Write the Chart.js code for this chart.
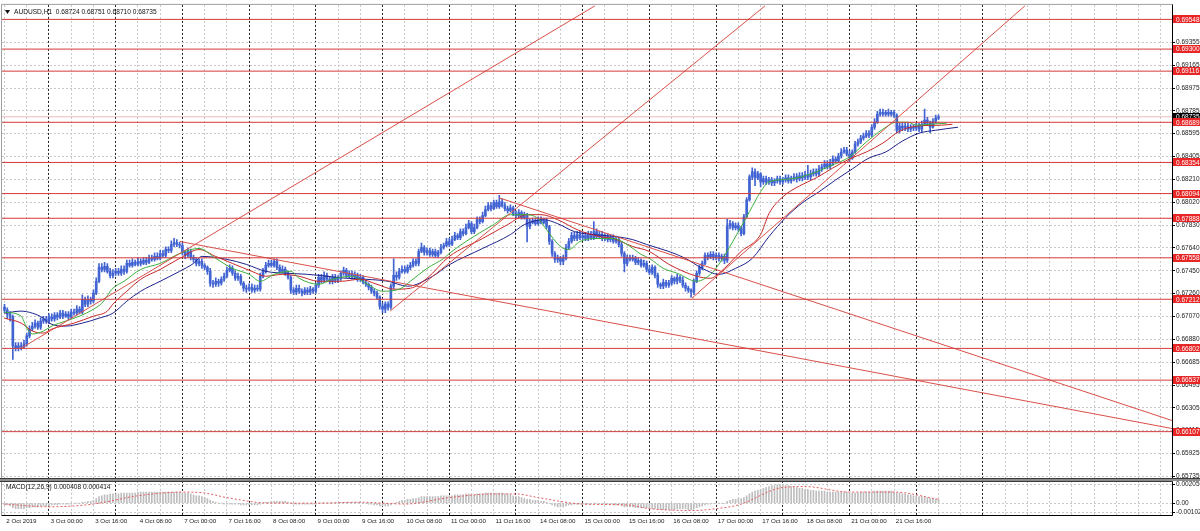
<!DOCTYPE html>
<html>
<head>
<meta charset="utf-8">
<script src="https://cdn.jsdelivr.net/npm/chart.js@4.4.1/dist/chart.umd.min.js"></script>
<style>
  html, body { margin: 0; padding: 0; background: #fff; }
  #wrap { width: 1200px; height: 531px; }
</style>
</head>
<body>
<div id="wrap"><canvas id="chart" width="1200" height="531"></canvas></div>
<script>
// AUDUSD H1, 2 Oct 08:00 .. 22 Oct 08:00, one value per hourly bar
const firstOpen = 0.67146;
const closes = [
  0.67121,0.67088,0.67063,0.66823,0.66806,0.66823,0.66814,0.66839,0.66906,0.66964,0.66988,0.67013,0.66980,0.67030,0.67047,0.67030,
  0.67063,0.67047,0.67080,0.67063,0.67096,0.67071,0.67088,0.67063,0.67104,0.67096,0.67130,0.67104,0.67212,0.67171,0.67212,0.67196,
  0.67263,0.67362,0.67478,0.67462,0.67487,0.67445,0.67412,0.67429,0.67445,0.67429,0.67462,0.67445,0.67511,0.67495,0.67520,0.67503,
  0.67528,0.67511,0.67536,0.67520,0.67553,0.67545,0.67570,0.67553,0.67594,0.67578,0.67628,0.67619,0.67669,0.67686,0.67669,0.67661,
  0.67603,0.67578,0.67611,0.67561,0.67545,0.67511,0.67528,0.67495,0.67478,0.67445,0.67346,0.67337,0.67362,0.67346,0.67379,0.67404,
  0.67453,0.67470,0.67429,0.67387,0.67404,0.67346,0.67304,0.67296,0.67312,0.67288,0.67304,0.67296,0.67404,0.67445,0.67495,0.67511,
  0.67495,0.67528,0.67478,0.67445,0.67462,0.67429,0.67396,0.67288,0.67271,0.67304,0.67279,0.67263,0.67288,0.67271,0.67296,0.67279,
  0.67329,0.67396,0.67371,0.67412,0.67379,0.67362,0.67396,0.67371,0.67387,0.67429,0.67453,0.67412,0.67429,0.67396,0.67412,0.67379,
  0.67396,0.67354,0.67337,0.67312,0.67279,0.67263,0.67230,0.67155,0.67130,0.67171,0.67146,0.67321,0.67412,0.67396,0.67445,0.67462,
  0.67445,0.67478,0.67495,0.67528,0.67511,0.67611,0.67644,0.67603,0.67619,0.67586,0.67611,0.67578,0.67603,0.67644,0.67661,0.67694,
  0.67669,0.67710,0.67743,0.67727,0.67777,0.67760,0.67810,0.67843,0.67777,0.67810,0.67877,0.67860,0.67910,0.67960,0.67993,0.67968,
  0.68018,0.67985,0.68026,0.67993,0.67968,0.67951,0.67976,0.67926,0.67910,0.67935,0.67893,0.67910,0.67819,0.67852,0.67868,0.67843,
  0.67877,0.67852,0.67868,0.67819,0.67694,0.67594,0.67545,0.67553,0.67528,0.67553,0.67644,0.67694,0.67743,0.67719,0.67752,0.67727,
  0.67743,0.67719,0.67752,0.67727,0.67777,0.67735,0.67752,0.67719,0.67735,0.67710,0.67727,0.67694,0.67710,0.67669,0.67594,0.67511,
  0.67561,0.67545,0.67553,0.67520,0.67536,0.67495,0.67511,0.67462,0.67437,0.67478,0.67412,0.67337,0.67321,0.67354,0.67329,0.67346,
  0.67387,0.67362,0.67396,0.67371,0.67329,0.67304,0.67288,0.67271,0.67362,0.67429,0.67478,0.67511,0.67578,0.67561,0.67586,0.67561,
  0.67578,0.67553,0.67570,0.67536,0.67827,0.67843,0.67810,0.67827,0.67802,0.67760,0.67901,0.68042,0.68233,0.68275,0.68225,0.68258,
  0.68192,0.68217,0.68192,0.68208,0.68183,0.68200,0.68217,0.68192,0.68208,0.68225,0.68200,0.68217,0.68233,0.68217,0.68242,0.68225,
  0.68250,0.68233,0.68258,0.68275,0.68258,0.68300,0.68316,0.68341,0.68316,0.68350,0.68383,0.68366,0.68408,0.68441,0.68457,0.68424,
  0.68391,0.68441,0.68507,0.68524,0.68557,0.68574,0.68598,0.68582,0.68648,0.68690,0.68756,0.68773,0.68756,0.68773,0.68756,0.68773,
  0.68748,0.68623,0.68657,0.68640,0.68657,0.68632,0.68648,0.68640,0.68657,0.68632,0.68673,0.68707,0.68682,0.68648,0.68698,0.68724,0.68735
];
const highs = [
  .6717,.6714,.6711,.6708,.6685,.6685,.6685,.6687,.6693,.6699,.6702,.6704,.6703,.6706,.6707,.6707,
  .6709,.6709,.6710,.6710,.6712,.6712,.6711,.6711,.6713,.6713,.6716,.6715,.6725,.6723,.6724,.6723,
  .6729,.6739,.6751,.6751,.6752,.6751,.6747,.6746,.6747,.6747,.6749,.6749,.6754,.6754,.6755,.6754,
  .6756,.6755,.6756,.6756,.6758,.6758,.6760,.6760,.6762,.6762,.6765,.6765,.6770,.6772,.6771,.6769,
  .6768,.6762,.6764,.6763,.6758,.6756,.6755,.6755,.6751,.6749,.6747,.6737,.6739,.6738,.6740,.6743,
  .6748,.6750,.6749,.6745,.6743,.6742,.6736,.6733,.6734,.6734,.6733,.6733,.6743,.6747,.6752,.6754,
  .6754,.6755,.6755,.6750,.6749,.6748,.6745,.6741,.6731,.6733,.6733,.6730,.6731,.6731,.6732,.6731,
  .6735,.6742,.6742,.6744,.6743,.6740,.6742,.6742,.6741,.6745,.6748,.6747,.6745,.6745,.6744,.6743,
  .6742,.6741,.6737,.6735,.6733,.6730,.6728,.6724,.6718,.6719,.6719,.6734,.6755,.6744,.6747,.6749,
  .6749,.6750,.6752,.6755,.6755,.6763,.6768,.6766,.6764,.6764,.6763,.6763,.6762,.6767,.6768,.6772,
  .6772,.6774,.6777,.6776,.6780,.6780,.6784,.6787,.6786,.6784,.6790,.6790,.6794,.6799,.6802,.6802,
  .6804,.6804,.6808,.6805,.6802,.6799,.6800,.6799,.6795,.6796,.6795,.6794,.6793,.6788,.6789,.6789,
  .6790,.6790,.6789,.6789,.6783,.6771,.6761,.6758,.6757,.6758,.6767,.6772,.6777,.6777,.6778,.6778,
  .6777,.6777,.6778,.6778,.6786,.6780,.6778,.6778,.6776,.6776,.6775,.6775,.6774,.6773,.6769,.6761,
  .6758,.6758,.6758,.6757,.6756,.6755,.6754,.6753,.6749,.6750,.6749,.6743,.6735,.6738,.6737,.6737,
  .6741,.6740,.6742,.6741,.6740,.6735,.6732,.6730,.6738,.6745,.6750,.6753,.6760,.6760,.6761,.6761,
  .6760,.6760,.6759,.6759,.6788,.6787,.6786,.6785,.6785,.6782,.6792,.6806,.6825,.6831,.6830,.6828,
  .6827,.6824,.6824,.6823,.6823,.6822,.6824,.6824,.6823,.6825,.6825,.6824,.6826,.6826,.6827,.6827,
  .6828,.6833,.6829,.6830,.6830,.6833,.6834,.6837,.6837,.6838,.6841,.6840,.6843,.6847,.6848,.6848,
  .6845,.6846,.6853,.6855,.6858,.6860,.6862,.6862,.6867,.6872,.6878,.6880,.6880,.6879,.6880,.6879,
  .6879,.6876,.6868,.6868,.6868,.6868,.6867,.6867,.6868,.6868,.6870,.6880,.6873,.6870,.6872,.6875,.68751
];
const lows = [
  .6710,.6705,.6703,.6671,.6678,.6678,.6679,.6680,.6682,.6689,.6695,.6697,.6696,.6696,.6701,.6701,
  .6701,.6703,.6703,.6704,.6705,.6705,.6706,.6704,.6705,.6708,.6708,.6709,.6709,.6715,.6715,.6717,
  .6718,.6725,.6735,.6744,.6744,.6743,.6739,.6739,.6741,.6741,.6741,.6742,.6743,.6748,.6748,.6749,
  .6749,.6749,.6750,.6750,.6751,.6753,.6753,.6754,.6754,.6756,.6756,.6760,.6760,.6765,.6765,.6764,
  .6758,.6755,.6756,.6754,.6752,.6749,.6749,.6747,.6746,.6742,.6732,.6731,.6732,.6732,.6733,.6736,
  .6739,.6744,.6741,.6737,.6737,.6733,.6728,.6727,.6728,.6727,.6727,.6728,.6728,.6739,.6743,.6748,
  .6748,.6748,.6746,.6743,.6743,.6741,.6738,.6726,.6725,.6725,.6726,.6724,.6725,.6725,.6725,.6726,
  .6726,.6731,.6735,.6735,.6736,.6734,.6734,.6735,.6735,.6737,.6741,.6739,.6739,.6738,.6738,.6736,
  .6736,.6734,.6732,.6729,.6726,.6724,.6721,.6713,.6710,.6710,.6712,.6713,.6730,.6737,.6738,.6743,
  .6743,.6743,.6746,.6748,.6749,.6749,.6760,.6758,.6758,.6757,.6757,.6756,.6756,.6759,.6763,.6765,
  .6765,.6766,.6770,.6771,.6771,.6774,.6775,.6780,.6776,.6776,.6780,.6784,.6785,.6790,.6795,.6795,
  .6796,.6797,.6797,.6798,.6795,.6793,.6794,.6791,.6789,.6789,.6788,.6788,.6769,.6780,.6784,.6783,
  .6783,.6784,.6784,.6780,.6767,.6757,.6752,.6752,.6750,.6750,.6754,.6763,.6768,.6770,.6770,.6771,
  .6771,.6770,.6770,.6771,.6771,.6772,.6772,.6770,.6770,.6769,.6769,.6768,.6768,.6765,.6757,.6744,
  .6749,.6753,.6753,.6750,.6750,.6748,.6748,.6744,.6742,.6742,.6739,.6731,.6730,.6730,.6731,.6731,
  .6733,.6734,.6734,.6735,.6731,.6728,.6727,.6723,.6725,.6735,.6741,.6746,.6750,.6754,.6755,.6754,
  .6754,.6753,.6753,.6751,.6752,.6780,.6779,.6779,.6778,.6774,.6775,.6789,.6803,.6821,.6816,.6821,
  .6815,.6817,.6817,.6817,.6816,.6816,.6818,.6817,.6817,.6819,.6818,.6818,.6820,.6819,.6820,.6820,
  .6821,.6821,.6821,.6824,.6824,.6824,.6828,.6830,.6830,.6830,.6833,.6835,.6835,.6839,.6843,.6841,
  .6836,.6838,.6843,.6849,.6851,.6854,.6856,.6856,.6857,.6863,.6868,.6874,.6874,.6874,.6874,.6874,
  .6873,.6860,.6860,.6862,.6862,.6861,.6861,.6862,.6862,.6861,.6861,.6866,.6866,.6860,.6864,.6868,.68710
];
// each bar opens at the previous bar's close
const opens = closes.map((c, i) => (i === 0 ? firstOpen : closes[i - 1]));

// Alligator lines (jaw / teeth / lips), read at sample bars
const jawBars = [0,6,10,14,16,22,28,34,39,44,49,56,63,68,71,80,87,94,102,109,116,123,130,138,145,154,160,172,182,187,194,199,205,212,220,226,231,239,245,251,257,263,269,275,281,287,293,299,305,311,317,323,329,335,343];
const jawVals = [.67096,.67113,.67096,.67054,.67013,.66988,.67013,.67054,.67096,.67196,.67279,.67362,.67445,.67511,.67570,.67545,.67503,.67445,.67429,.67420,.67404,.67387,.67379,.67362,.67321,.67404,.67500,.67636,.67752,.67835,.67876,.67843,.67777,.67752,.67735,.67710,.67669,.67611,.67553,.67470,.67420,.67470,.67553,.67735,.67893,.68017,.68109,.68208,.68300,.68391,.68441,.68532,.68598,.68623,.68648];
const teethBars = [0,6,10,14,17,25,32,37,39,44,49,56,63,70,76,82,89,94,100,106,113,121,128,134,140,146,152,160,172,181,188,193,199,206,214,219,226,232,239,249,254,257,265,272,275,280,286,292,298,304,310,316,322,328,337,341];
const teethVals = [.67054,.67013,.66947,.66930,.66963,.67013,.67071,.67113,.67171,.67279,.67379,.67461,.67553,.67627,.67569,.67511,.67445,.67404,.67420,.67404,.67362,.67362,.67379,.67337,.67296,.67304,.67387,.67569,.67719,.67835,.67918,.67918,.67876,.67793,.67735,.67719,.67652,.67611,.67504,.67404,.67387,.67428,.67611,.67752,.67926,.68067,.68158,.68225,.68308,.68383,.68441,.68516,.68615,.68657,.68665,.68673];
const lipsBars = [0,6,8,10,14,17,22,27,32,35,39,43,49,56,63,70,76,82,88,92,97,103,106,113,118,125,130,136,142,146,152,158,160,166,176,182,187,192,195,200,203,207,212,219,224,229,232,237,242,249,254,257,262,268,272,275,283,290,298,304,310,316,321,325,328,333,339];
const lipsVals = [.67104,.67071,.66972,.66922,.66947,.66988,.67030,.67071,.67129,.67179,.67304,.67362,.67461,.67511,.67594,.67636,.67553,.67470,.67420,.67362,.67420,.67445,.67387,.67337,.67379,.67404,.67346,.67279,.67296,.67362,.67470,.67553,.67594,.67694,.67836,.67918,.67918,.67885,.67793,.67652,.67627,.67694,.67719,.67719,.67669,.67587,.67553,.67470,.67429,.67362,.67420,.67504,.67694,.67943,.68109,.68192,.68217,.68258,.68334,.68400,.68524,.68632,.68690,.68690,.68665,.68673,.68682];

// horizontal levels and trend lines (bar, price)
const levels = [0.69548, 0.69300, 0.69116, 0.68689, 0.68354, 0.68094, 0.67888, 0.67558, 0.67212, 0.66802, 0.66537, 0.66107];
const bidPrice = 0.68735;
const trendFrom = [[5.6, 0.66798], [138.7, 0.67113], [247.3, 0.67221], [63.1, 0.67694], [177.9, 0.68059]];
const trendTo = [[212.4, 0.69661], [273.6, 0.69661], [367.1, 0.69661], [420, 0.66133], [420, 0.66200]];

// MACD(12,26,9): main per bar, signal at sample bars
const macdMain = [
  -0.0002,-0.0002,-0.0003,-0.0005,-0.0006,-0.0006,-0.0006,-0.0006,-0.0005,-0.0005,-0.0004,-0.0004,-0.0004,-0.0003,-0.0003,-0.0003,
  -0.0003,-0.0002,-0.0002,-0.0002,-0.0001,-0.0001,-0.0001,-0.0001,-0.0001,0.0000,0.0000,0.0000,0.0001,0.0001,0.0002,0.0002,
  0.0003,0.0005,0.0007,0.0008,0.0009,0.0009,0.0010,0.0010,0.0010,0.0010,0.0011,0.0011,0.0011,0.0011,0.0011,0.0011,
  0.0012,0.0012,0.0012,0.0012,0.0012,0.0012,0.0012,0.0012,0.0012,0.0012,0.0012,0.0012,0.0012,0.0012,0.0012,0.0012,
  0.0011,0.0011,0.0011,0.0010,0.0009,0.0008,0.0008,0.0007,0.0006,0.0005,0.0003,0.0002,0.0001,0.0000,0.0000,-0.0001,
  -0.0001,-0.0001,-0.0001,-0.0001,-0.0001,-0.0002,-0.0002,-0.0002,-0.0002,-0.0002,-0.0002,-0.0002,-0.0001,0.0000,0.0001,0.0001,
  0.0002,0.0002,0.0002,0.0002,0.0002,0.0002,0.0001,0.0000,-0.0001,-0.0001,-0.0001,-0.0001,-0.0001,-0.0001,-0.0001,-0.0001,
  -0.0001,0.0000,0.0000,0.0000,0.0000,0.0000,0.0000,0.0000,0.0000,0.0001,0.0001,0.0001,0.0001,0.0001,0.0001,0.0001,
  0.0001,0.0000,0.0000,-0.0001,-0.0001,-0.0002,-0.0002,-0.0003,-0.0003,-0.0003,-0.0003,-0.0002,0.0000,0.0001,0.0002,0.0003,
  0.0003,0.0004,0.0004,0.0005,0.0005,0.0006,0.0007,0.0007,0.0007,0.0007,0.0007,0.0007,0.0007,0.0008,0.0008,0.0008,
  0.0008,0.0008,0.0009,0.0009,0.0009,0.0009,0.0010,0.0010,0.0009,0.0009,0.0010,0.0010,0.0010,0.0011,0.0011,0.0011,
  0.0011,0.0011,0.0011,0.0011,0.0010,0.0010,0.0009,0.0008,0.0007,0.0007,0.0006,0.0005,0.0004,0.0004,0.0003,0.0003,
  0.0003,0.0002,0.0002,0.0001,0.0000,-0.0002,-0.0003,-0.0004,-0.0004,-0.0004,-0.0003,-0.0002,-0.0002,-0.0001,-0.0001,-0.0001,
  -0.0001,-0.0001,-0.0001,-0.0001,0.0000,0.0000,-0.0001,-0.0001,-0.0001,-0.0001,-0.0001,-0.0002,-0.0002,-0.0002,-0.0003,-0.0004,
  -0.0004,-0.0004,-0.0004,-0.0005,-0.0005,-0.0005,-0.0005,-0.0005,-0.0006,-0.0006,-0.0006,-0.0007,-0.0007,-0.0007,-0.0007,-0.0007,
  -0.0007,-0.0007,-0.0006,-0.0006,-0.0006,-0.0006,-0.0007,-0.0007,-0.0006,-0.0005,-0.0004,-0.0003,-0.0002,-0.0001,-0.0001,0.0000,
  0.0000,0.0000,0.0000,0.0000,0.0002,0.0003,0.0004,0.0004,0.0005,0.0005,0.0006,0.0008,0.0010,0.0012,0.0013,0.0014,
  0.0015,0.0016,0.0017,0.0018,0.0019,0.0019,0.0020,0.0020,0.0020,0.0019,0.0019,0.0018,0.0018,0.0017,0.0016,0.0016,
  0.0015,0.0015,0.0014,0.0014,0.0013,0.0013,0.0013,0.0013,0.0012,0.0012,0.0012,0.0012,0.0012,0.0012,0.0012,0.0012,
  0.0011,0.0011,0.0011,0.0011,0.0012,0.0012,0.0012,0.0012,0.0012,0.0013,0.0013,0.0013,0.0013,0.0013,0.0013,0.0013,
  0.0012,0.0011,0.0011,0.0010,0.0010,0.0009,0.0009,0.0008,0.0008,0.0007,0.0007,0.0006,0.0006,0.0005,0.0005,0.0004,0.0004
];
const signalBars = [0,16,32,48,64,72,80,96,112,128,136,144,160,176,184,192,208,224,232,248,256,264,280,288,304,320,336];
const signalVals = [-0.0001,-0.0004,-0.0001,0.0008,0.0012,0.0011,0.0006,0.0000,0.0000,0.0001,0.0000,-0.0001,0.0006,0.0010,0.0010,0.0006,-0.0001,-0.0002,-0.0006,-0.0008,-0.0006,-0.0002,0.0017,0.0018,0.0012,0.0012,0.000414];

// axes
const priceTicks = [0.69355,0.69165,0.68975,0.68785,0.68595,0.68405,0.68210,0.68020,0.67830,0.67640,0.67450,0.67260,0.67070,0.66880,0.66685,0.66495,0.66305,0.66115,0.65925,0.65735];
const macdTicks = [0.002056, 0, -0.00102];
const macdTickLabels = ['0.002056', '0.00', '-0.00102'];
const labelBars = [0,16,32,48,64,80,96,112,128,144,160,176,192,208,224,240,256,272,288,304,320];
const timeLabels = ['2 Oct 2019','3 Oct 00:00','3 Oct 16:00','4 Oct 08:00','7 Oct 00:00','7 Oct 16:00','8 Oct 08:00','9 Oct 00:00','9 Oct 16:00','10 Oct 08:00','11 Oct 00:00','11 Oct 16:00','14 Oct 08:00','15 Oct 00:00','15 Oct 16:00','16 Oct 08:00','17 Oct 00:00','17 Oct 16:00','18 Oct 08:00','21 Oct 00:00','21 Oct 16:00'];
const dayStartBars = [16,40,64,88,112,136,160,184,208,232,256,280,304,328,352];
const titleText = 'AUDUSD,H1  0.68724 0.68751 0.68710 0.68735';
const macdTitle = 'MACD(12,26,9) 0.000408 0.000414';

const XMIN = -0.9, XMAX = 420;
const PMIN = 0.65710, PMAX = 0.69669;
const MMIN = -0.00129, MMAX = 0.00260;
const FONT = "'Liberation Sans', Arial, sans-serif";
const gridBars = Array.from({length: 53}, (_, k) => 8 * k);

const pts = (xs, ys) => xs.map((x, i) => ({x: x, y: ys[i]}));
const candleBlue = 'rgb(66,100,210)';
const lineRed = 'rgb(212,58,58)';

const datasets = [];
levels.forEach(l => datasets.push({
  type: 'line', yAxisID: 'y', order: 1, data: [{x: XMIN, y: l}, {x: XMAX, y: l}],
  borderColor: lineRed, borderWidth: 1, pointRadius: 0
}));
trendFrom.forEach((a, k) => datasets.push({
  type: 'line', yAxisID: 'y', order: 1, data: [{x: a[0], y: a[1]}, {x: trendTo[k][0], y: trendTo[k][1]}],
  borderColor: 'rgb(218,80,72)', borderWidth: 1, pointRadius: 0
}));
datasets.push({
  type: 'line', yAxisID: 'y', order: 2, data: pts(lipsBars, lipsVals),
  borderColor: 'rgb(60,175,60)', borderWidth: 1, pointRadius: 0, cubicInterpolationMode: 'monotone'
});
datasets.push({
  type: 'line', yAxisID: 'y', order: 2, data: pts(teethBars, teethVals),
  borderColor: 'rgb(200,40,40)', borderWidth: 1, pointRadius: 0, cubicInterpolationMode: 'monotone'
});
datasets.push({
  type: 'line', yAxisID: 'y', order: 2, data: pts(jawBars, jawVals),
  borderColor: 'rgb(30,35,140)', borderWidth: 1, pointRadius: 0, cubicInterpolationMode: 'monotone'
});
datasets.push({
  type: 'bar', yAxisID: 'y', order: 4, grouped: false, barThickness: 2, minBarLength: 1,
  data: closes.map((c, i) => ({x: i, y: [opens[i], c]})),
  backgroundColor: candleBlue, borderWidth: 0
});
datasets.push({
  type: 'bar', yAxisID: 'y', order: 5, grouped: false, barThickness: 1,
  data: highs.map((h, i) => ({x: i, y: [lows[i], h]})),
  backgroundColor: candleBlue, borderWidth: 0
});
datasets.push({
  type: 'line', yAxisID: 'y', order: 6, data: [{x: XMIN, y: bidPrice}, {x: XMAX, y: bidPrice}],
  borderColor: 'rgba(225,170,170,0.8)', borderWidth: 1, pointRadius: 0
});
datasets.push({
  type: 'line', yAxisID: 'm', order: 2, data: pts(signalBars, signalVals),
  borderColor: 'rgb(228,95,95)', borderWidth: 1, borderDash: [2, 2], pointRadius: 0, cubicInterpolationMode: 'monotone'
});
datasets.push({
  type: 'bar', yAxisID: 'm', order: 3, grouped: false, barThickness: 1,
  data: macdMain.map((v, i) => ({x: i, y: v})),
  backgroundColor: 'rgb(190,190,190)', borderWidth: 0
});

const mt4Decor = {
  id: 'mt4Decor',
  afterDraw(chart) {
    const {ctx, chartArea: a, scales} = chart;
    const y = scales.y, m = scales.m;
    ctx.save();
    // frame
    ctx.strokeStyle = '#a0a0a0';
    ctx.lineWidth = 1;
    ctx.beginPath();
    ctx.moveTo(a.left - 0.5, a.top - 0.5); ctx.lineTo(a.left - 0.5, a.bottom);
    ctx.moveTo(a.left - 0.5, a.top - 0.5); ctx.lineTo(a.right, a.top - 0.5);
    ctx.stroke();
    ctx.strokeStyle = '#000';
    ctx.beginPath();
    ctx.moveTo(a.right + 0.5, a.top - 0.5); ctx.lineTo(a.right + 0.5, a.bottom + 0.5);
    ctx.lineTo(a.left - 0.5, a.bottom + 0.5);
    ctx.stroke();
    // panel separator
    const sep = Math.round(y.bottom);
    ctx.fillStyle = '#8c8c8c';
    ctx.fillRect(0, sep - 1, chart.width, 3);
    ctx.fillStyle = '#3a3a3a';
    ctx.fillRect(0, sep - 1, chart.width, 1);
    ctx.fillRect(0, sep + 2, a.right + 1, 1);

    // axis price boxes
    ctx.font = '6.5px ' + FONT;
    ctx.textBaseline = 'middle';
    ctx.textAlign = 'left';
    const box = (v, bg) => {
      const py = y.getPixelForValue(v);
      ctx.fillStyle = bg;
      ctx.fillRect(a.right + 1, Math.round(py) - 4, chart.width - a.right - 1, 8);
      ctx.fillStyle = '#fff';
      ctx.fillText(v.toFixed(5), a.right + 4, py + 0.5);
    };
    box(bidPrice, '#000');
    levels.forEach(l => box(l, 'rgb(232,38,38)'));

    // titles
    ctx.fillStyle = '#111';
    ctx.font = '6.6px ' + FONT;
    ctx.fillText(titleText, a.left + 12, a.top + 7);
    ctx.beginPath();
    ctx.moveTo(a.left + 3, a.top + 5); ctx.lineTo(a.left + 8, a.top + 5); ctx.lineTo(a.left + 5.5, a.top + 9);
    ctx.closePath();
    ctx.fill();
    ctx.fillText(macdTitle, a.left + 4, m.top + 8);
    ctx.restore();
  }
};

new Chart(document.getElementById('chart'), {
  type: 'line',
  data: {datasets: datasets},
  options: {
    responsive: false,
    animation: false,
    devicePixelRatio: 1,
    events: [],
    layout: {padding: {left: 2, top: 2, right: 0, bottom: 0}},
    plugins: {legend: {display: false}, tooltip: {enabled: false}},
    scales: {
      x: {
        type: 'linear', position: 'bottom', min: XMIN, max: XMAX, offset: false,
        afterBuildTicks: s => { s.ticks = gridBars.map(v => ({value: v})); },
        afterFit: s => { s.height = 16; s.paddingLeft = 0; s.paddingRight = 0; },
        ticks: {
          autoSkip: false, maxRotation: 0, align: 'start', padding: 3, color: '#222',
          font: {family: FONT, size: 6.2},
          callback: v => { const k = labelBars.indexOf(v); return k < 0 ? '' : ' ' + timeLabels[k]; }
        },
        grid: {
          offset: false, drawTicks: false, lineWidth: 1,
          color: c => (c.tick && dayStartBars.includes(c.tick.value)) ? 'rgb(30,30,30)' : 'rgb(200,200,200)'
        },
        border: {display: false, dash: [2, 2]}
      },
      y: {
        type: 'linear', position: 'right', stack: 'panes', stackWeight: 477, min: PMIN, max: PMAX,
        afterBuildTicks: s => { s.ticks = priceTicks.map(v => ({value: v})); },
        afterFit: s => { s.width = 28; },
        ticks: {autoSkip: false, padding: 1, color: '#222', font: {family: FONT, size: 6.5}, callback: v => v.toFixed(5)},
        grid: {color: 'rgb(200,200,200)', lineWidth: 1, tickLength: 3, tickColor: '#000', tickBorderDash: []},
        border: {display: false, dash: [2, 2]}
      },
      m: {
        type: 'linear', position: 'right', stack: 'panes', stackWeight: 36, min: MMIN, max: MMAX,
        afterBuildTicks: s => { s.ticks = macdTicks.map(v => ({value: v})); },
        afterFit: s => { s.width = 28; },
        ticks: {autoSkip: false, padding: 1, color: '#222', font: {family: FONT, size: 6.5},
          callback: (v, i) => macdTickLabels[i]},
        grid: {color: 'rgb(200,200,200)', lineWidth: 1, tickLength: 3, tickColor: '#000', tickBorderDash: []},
        border: {display: false, dash: [2, 2]}
      }
    }
  },
  plugins: [mt4Decor]
});
</script>
</body>
</html>
